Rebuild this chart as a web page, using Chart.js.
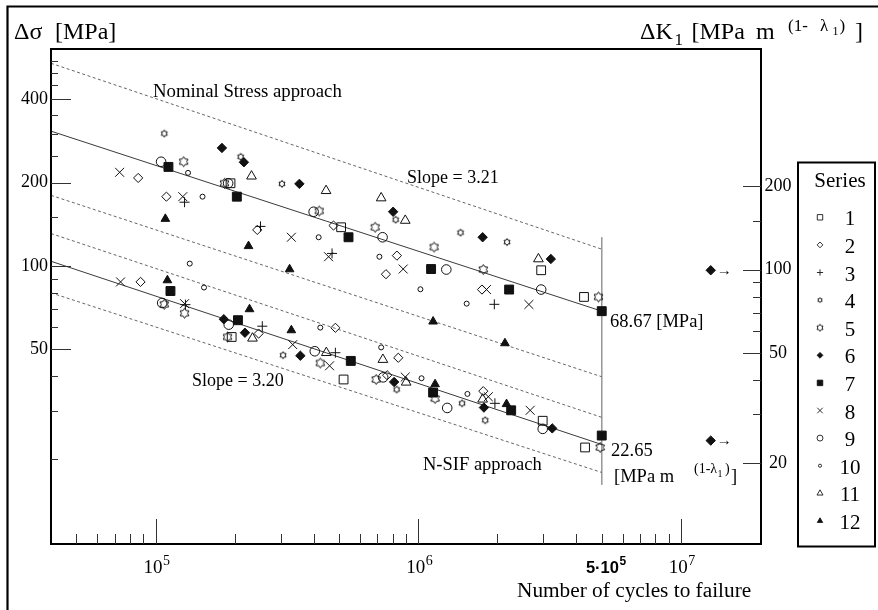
<!DOCTYPE html>
<html><head><meta charset="utf-8">
<script src="https://cdn.jsdelivr.net/npm/chart.js@4.4.1/dist/chart.umd.min.js"></script>
<style>html,body{margin:0;padding:0;background:#fff}canvas{display:block}</style>
</head><body>
<canvas id="c" width="878" height="610"></canvas>
<script>
// ---------------- data (N = cycles, S = range) ----------------
const seriesLabels = ['1','2','3','4','5','6','7','8','9','10','11','12'];

const nominal1 = [[1.93e5,199],[5.09e5,138],[2.94e6,96.5],[4.28e6,77.3]];
const nsif1    = [[1.95e5,55.4],[5.20e5,38.9],[2.98e6,27.6],[4.32e6,22.1]];
const nominal2 = [[8.59e4,208],[1.10e5,178],[2.44e5,135],[4.76e5,140],[8.30e5,109],[7.54e5,93.4],[1.75e6,82.2]];
const nsif2    = [[8.77e4,87.6],[2.47e5,57.0],[4.84e5,59.8],[8.40e5,46.6],[7.62e5,40.3],[1.77e6,35.3]];
const nominal3 = [[1.29e5,170],[2.51e5,139],[4.70e5,111],[1.95e6,72.7]];
const nsif3    = [[1.30e5,72.5],[2.55e5,60.6],[4.84e5,48.6],[1.96e6,31.9]];
const nominal4 = [[1.08e5,301],[2.11e5,248],[3.03e5,198],[8.21e5,147],[1.45e6,132],[2.18e6,122]];
const nsif4    = [[3.06e5,47.6],[8.28e5,35.8],[1.47e6,31.9],[1.80e6,27.7]];
const nominal5 = [[1.28e5,238],[1.83e5,199],[4.20e5,158],[6.86e5,138],[1.15e6,117],[1.77e6,97.1],[4.86e6,77.3]];
const nsif5    = [[1.08e5,72.7],[1.29e5,67.5],[1.88e5,55.4],[4.24e5,44.6],[6.92e5,38.9],[1.16e6,33.2],[4.93e6,22.1]];
const nominal6 = [[1.79e5,267],[2.17e5,237],[3.53e5,198],[8.03e5,157],[1.76e6,127],[3.20e6,106],[1.30e7,96.5]];
const nsif6    = [[1.82e5,64.2],[2.19e5,57.4],[3.56e5,47.4],[8.10e5,38.1],[1.78e6,30.8],[3.24e6,25.9],[1.30e7,23.4]];
const nominal7 = [[1.12e5,228],[2.04e5,178],[5.43e5,127],[1.12e6,97.5],[2.22e6,82.2],[5.0e6,68.67]];
const nsif7    = [[1.14e5,81.2],[2.06e5,63.7],[5.54e5,45.4],[1.14e6,34.9],[2.26e6,30.1],[5.0e6,24.4]];
const nominal8 = [[7.30e4,218],[1.27e5,178],[3.29e5,127],[4.56e5,108],[8.77e5,97.5],[1.82e6,82.2],[2.64e6,72.6]];
const nsif8    = [[7.36e4,87.6],[1.29e5,73.1],[3.33e5,52.0],[4.60e5,43.6],[8.93e5,39.7],[1.85e6,33.7],[2.67e6,30.1]];
const nominal9 = [[1.05e5,238],[1.89e5,199],[4.00e5,157],[7.32e5,127],[1.28e6,97.1],[2.94e6,82.2]];
const nsif9    = [[1.06e5,73.5],[1.90e5,61.4],[4.04e5,49.2],[7.36e5,39.6],[1.29e6,30.7],[2.98e6,25.8]];
const nominal10 = [[1.33e5,217],[1.51e5,178],[1.35e5,102],[4.18e5,127],[7.12e5,108],[1.02e6,82.4],[1.53e6,73.1]];
const nsif10    = [[1.53e5,83.6],[4.24e5,59.9],[7.23e5,50.8],[1.03e6,39.3],[1.54e6,34.5]];
const nominal11 = [[2.32e5,211],[4.46e5,187],[7.23e5,176],[8.93e5,146],[2.87e6,106]];
const nsif11    = [[2.34e5,54.8],[4.47e5,48.6],[7.34e5,45.9],[9.00e5,38.0],[1.76e6,33.0]];
const nominal12 = [[1.09e5,148],[2.26e5,118],[3.24e5,97.3],[1.14e6,63.0],[2.14e6,52.6]];
const nsif12    = [[1.11e5,88.8],[2.28e5,69.8],[3.29e5,58.6],[1.16e6,37.4],[2.17e6,31.7]];

// reference (design) lines: [N, S] end points
const nominalMean  = [[4.0e4,307],[5.0e6,68.67]];
const nominalUpper = [[4.0e4,540],[5.0e6,115]];
const nominalLower = [[4.0e4,180],[5.0e6,39.8]];
const nsifMean     = [[4.0e4,104],[5.0e6,22.65]];
const nsifUpper    = [[4.0e4,131],[5.0e6,28.4]];
const nsifLower    = [[4.0e4,80],[5.0e6,17.95]];
const refVertical  = [[5.0e6,127],[5.0e6,16.2]];

// ticks
const xTickValues = [5e4,6e4,7e4,8e4,9e4,1e5,2e5,3e5,4e5,5e5,6e5,7e5,8e5,9e5,1e6,2e6,3e6,4e6,5e6,6e6,7e6,8e6,9e6,1e7];
const xMajorTicks = [1e5,1e6,1e7];
const xTickLabels = [[1e5,'10','5'],[1e6,'10','6'],[1e7,'10','7']];
const xMarkLabel  = [5e6,'5·10','5'];
const yLeftTicks  = [20,30,40,50,60,70,80,90,100,150,200,250,300,350,400,450,500,550];
const yLeftLabels = [50,100,200,400];
const yRightTicks = [20,30,40,50,60,70,80,90,100,150,200];
const yRightLabels= [20,50,100,200];

// ---------------- styles ----------------
const SERIF = '"Liberation Serif","Times New Roman",Times,serif';
const SANS = '"Liberation Sans",Arial,Helvetica,sans-serif';
const INK = '#111';

function hexagram(size, inner, lw){
  const c = document.createElement('canvas');
  c.width = c.height = Math.ceil(size) + 3;
  const g = c.getContext('2d');
  const cx = c.width/2, R = size/2, r = R*inner;
  g.beginPath();
  for (let i=0;i<12;i++){
    const a = -Math.PI/2 + i*Math.PI/6;
    const rr = (i%2) ? r : R;
    g.lineTo(cx+rr*Math.cos(a), cx+rr*Math.sin(a));
  }
  g.closePath();
  g.strokeStyle = INK; g.lineWidth = lw; g.stroke();
  return c;
}
const hexSmall = hexagram(7, 0.6, 1);
const hexLarge = hexagram(10, 0.62, 1);
const hexSmallLeg = hexagram(5, 0.6, 0.9);
const hexLargeLeg = hexagram(7, 0.62, 0.9);

const markers = [
  {style:'rect', r:6.2, fill:false},
  {style:'rectRot', r:4.6, fill:false},
  {style:'cross', r:5, fill:false},
  {style:hexSmall, leg:hexSmallLeg, r:4, fill:false},
  {style:hexLarge, leg:hexLargeLeg, r:5, fill:false},
  {style:'rectRot', r:4.7, fill:true},
  {style:'rect', r:6.3, fill:true},
  {style:'crossRot', r:6.3, fill:false},
  {style:'circle', r:4.8, fill:false},
  {style:'circle', r:2.5, fill:false},
  {style:'triangle', r:5.6, fill:false},
  {style:'triangle', r:5, fill:true}
];

const nominalData = [nominal1,nominal2,nominal3,nominal4,nominal5,nominal6,nominal7,nominal8,nominal9,nominal10,nominal11,nominal12];
const nsifData = [nsif1,nsif2,nsif3,nsif4,nsif5,nsif6,nsif7,nsif8,nsif9,nsif10,nsif11,nsif12];
const pts = arr => arr.map(([x,y]) => ({x, y}));

const datasets = [];
function refLine(arr, dashed, color){
  datasets.push({label:'', data:pts(arr), showLine:true, borderColor:color, borderWidth:1,
    borderDash: dashed ? [3,2.5] : [], pointRadius:0, fill:false, order:5});
}
refLine(nominalMean, false, '#3a3a3a');
refLine(nominalUpper, true, '#666');
refLine(nominalLower, true, '#666');
refLine(nsifMean, false, '#3a3a3a');
refLine(nsifUpper, true, '#666');
refLine(nsifLower, true, '#666');
refLine(refVertical, false, '#9a9a9a');

seriesLabels.forEach((lab,i) => {
  const m = markers[i];
  datasets.push({
    label: lab,
    data: pts(nominalData[i].concat(nsifData[i])),
    pointStyle: m.style, pointRadius: m.r,
    backgroundColor: m.fill ? INK : 'rgba(0,0,0,0)',
    borderColor: INK, borderWidth: 1, showLine:false, order:0
  });
});

// ---------------- drawing helpers ----------------
function put(ctx, s, x, y, size, opts){
  opts = opts || {};
  ctx.font = (opts.weight||'normal') + ' ' + size + 'px ' + (opts.family||SERIF);
  ctx.textAlign = opts.align || 'left';
  ctx.textBaseline = 'alphabetic';
  ctx.fillStyle = opts.color || '#000';
  ctx.fillText(s, x, y);
  return ctx.measureText(s).width;
}
function widthOf(ctx, s, size, family, weight){
  ctx.font = (weight||'normal') + ' ' + size + 'px ' + (family||SERIF);
  return ctx.measureText(s).width;
}
function powerLabel(ctx, cx, base, baseTxt, expTxt, size, expSize, family, weight){
  const wb = widthOf(ctx, baseTxt, size, family, weight);
  const we = widthOf(ctx, expTxt, expSize, family, weight);
  const x0 = cx - (wb+we)/2;
  put(ctx, baseTxt, x0, base, size, {family, weight});
  put(ctx, expTxt, x0+wb+0.5, base-8, expSize, {family, weight});
}
function legendMarker(ctx, i, x, y){
  const m = markers[i];
  if (m.leg){ ctx.drawImage(m.leg, x - m.leg.width/2, y - m.leg.height/2); return; }
  ctx.save();
  ctx.translate(x, y);
  const k = 0.62;
  ctx.scale(k, k);
  ctx.fillStyle = m.fill ? INK : 'rgba(0,0,0,0)';
  ctx.strokeStyle = INK;
  ctx.lineWidth = 1.4;
  Chart.helpers.drawPoint(ctx, {pointStyle:m.style, radius:m.r, borderWidth:1, rotation:0}, 0, 0);
  ctx.restore();
}

const decor = {
  id: 'decor',
  beforeDraw(chart){
    const c = chart.ctx; c.save(); c.fillStyle='#fff'; c.fillRect(0,0,chart.width,chart.height); c.restore();
  },
  afterDraw(chart){
    const ctx = chart.ctx, a = chart.chartArea;
    const sx = chart.scales.x, sy = chart.scales.y, sy2 = chart.scales.y2;
    ctx.save();
    // outer figure frame
    ctx.strokeStyle = '#000'; ctx.lineWidth = 2.2;
    ctx.beginPath(); ctx.moveTo(7.5, 610); ctx.lineTo(7.5, 6.5); ctx.lineTo(878, 6.5); ctx.stroke();
    // plot frame
    ctx.lineWidth = 2;
    ctx.strokeRect(a.left, a.top, a.right - a.left, a.bottom - a.top);
    // inward tick marks
    ctx.lineWidth = 1; ctx.strokeStyle = '#333';
    ctx.beginPath();
    xTickValues.forEach(v => {
      const px = Math.round(sx.getPixelForValue(v)) + 0.5;
      const len = xMajorTicks.includes(v) ? 25 : 10;
      ctx.moveTo(px, a.bottom); ctx.lineTo(px, a.bottom - len);
    });
    yLeftTicks.forEach(v => {
      const py = Math.round(sy.getPixelForValue(v)) + 0.5;
      const len = yLeftLabels.includes(v) ? 20 : 7;
      ctx.moveTo(a.left, py); ctx.lineTo(a.left + len, py);
    });
    yRightTicks.forEach(v => {
      const py = Math.round(sy2.getPixelForValue(v)) + 0.5;
      const len = yRightLabels.includes(v) ? 18 : 8;
      ctx.moveTo(a.right - len, py); ctx.lineTo(a.right, py);
    });
    ctx.stroke();

    // x tick labels (powers of ten)
    xTickLabels.forEach(([v,b,e]) => {
      powerLabel(ctx, sx.getPixelForValue(v) + 1, 572.5, b, e, 19, 14, SERIF, 'normal');
    });
    powerLabel(ctx, sx.getPixelForValue(xMarkLabel[0]) + 4, 573, xMarkLabel[1], xMarkLabel[2], 16.5, 12, SANS, 'bold');

    // axis titles
    put(ctx, 'Δσ', 14, 39, 24);
    put(ctx, '[MPa]', 55, 39, 24);
    put(ctx, 'ΔK', 640, 39, 24);
    put(ctx, '1', 674.5, 45, 17);
    put(ctx, '[MPa', 691.5, 39, 24);
    put(ctx, 'm', 756, 39, 24);
    put(ctx, '(1-', 788, 31, 17);
    put(ctx, 'λ', 820, 31, 17);
    put(ctx, '1', 832.5, 35, 12);
    put(ctx, ')', 839.5, 31, 17);
    put(ctx, ']', 855, 39, 24);
    put(ctx, 'Number of cycles to failure', 517, 597, 21.3);

    // annotations
    put(ctx, 'Nominal Stress approach', 153, 96.5, 18.8);
    put(ctx, 'Slope = 3.21', 407, 183, 18);
    put(ctx, 'Slope = 3.20', 192, 386, 18);
    put(ctx, '68.67 [MPa]', 610, 326.5, 18.5);
    put(ctx, '22.65', 611, 455.5, 18.5);
    put(ctx, '[MPa m', 614, 481.7, 18.5);
    put(ctx, '(1-λ', 694, 473, 14);
    put(ctx, '1', 717.5, 477, 10);
    put(ctx, ')', 725, 473, 14);
    put(ctx, ']', 731, 481.7, 18.5);
    put(ctx, 'N-SIF approach', 423, 470, 18.5);

    // run-out arrows next to the out-of-range points
    const ax = sx.getPixelForValue(1.30e7) + 6;
    put(ctx, '→', ax, sy.getPixelForValue(96.5) + 4.5, 15);
    put(ctx, '→', ax, sy.getPixelForValue(23.4) + 4.5, 15);

    // legend
    ctx.strokeStyle = '#000'; ctx.lineWidth = 2;
    ctx.strokeRect(798, 162.5, 77, 384);
    put(ctx, 'Series', 840, 186.5, 21, {align:'center'});
    seriesLabels.forEach((lab,i) => {
      const yRow = 218.3 + i*27.6;
      legendMarker(ctx, i, 820, yRow - 1);
      put(ctx, lab, 850, yRow + 7, 21, {align:'center'});
    });
    ctx.restore();
  }
};

new Chart(document.getElementById('c').getContext('2d'), {
  type: 'scatter',
  data: { datasets },
  options: {
    responsive: false, animation: false, devicePixelRatio: 1,
    layout: { padding: { top: 49, left: 0, right: 0, bottom: 0 } },
    plugins: { legend: { display: false }, tooltip: { enabled: false } },
    elements: { line: { tension: 0 } },
    scales: {
      x: {
        type: 'logarithmic', position: 'bottom', min: 4.0e4, max: 2.02e7,
        grid: { display: false, drawTicks: false }, border: { display: false },
        ticks: { display: false },
        afterBuildTicks: s => { s.ticks = xTickValues.map(v => ({ value: v })); },
        afterFit: s => { s.height = 66; }
      },
      y: {
        type: 'logarithmic', position: 'left', min: 9.9, max: 608,
        grid: { display: false, drawTicks: false }, border: { display: false },
        ticks: { autoSkip: false, padding: 3, color: '#000', font: { family: SERIF, size: 18 },
          callback: v => yLeftLabels.includes(v) ? String(v) : '' },
        afterBuildTicks: s => { s.ticks = yLeftTicks.map(v => ({ value: v })); },
        afterFit: s => { s.width = 51; }
      },
      y2: {
        type: 'logarithmic', position: 'right', min: 10.2, max: 628,
        grid: { display: false, drawTicks: false }, border: { display: false },
        ticks: { autoSkip: false, padding: 3.5, crossAlign: 'center', color: '#000', font: { family: SERIF, size: 18 },
          callback: v => yRightLabels.includes(v) ? String(v) : '' },
        afterBuildTicks: s => { s.ticks = yRightTicks.map(v => ({ value: v })); },
        afterFit: s => { s.width = 117; }
      }
    }
  },
  plugins: [decor]
});
</script>
</body></html>
